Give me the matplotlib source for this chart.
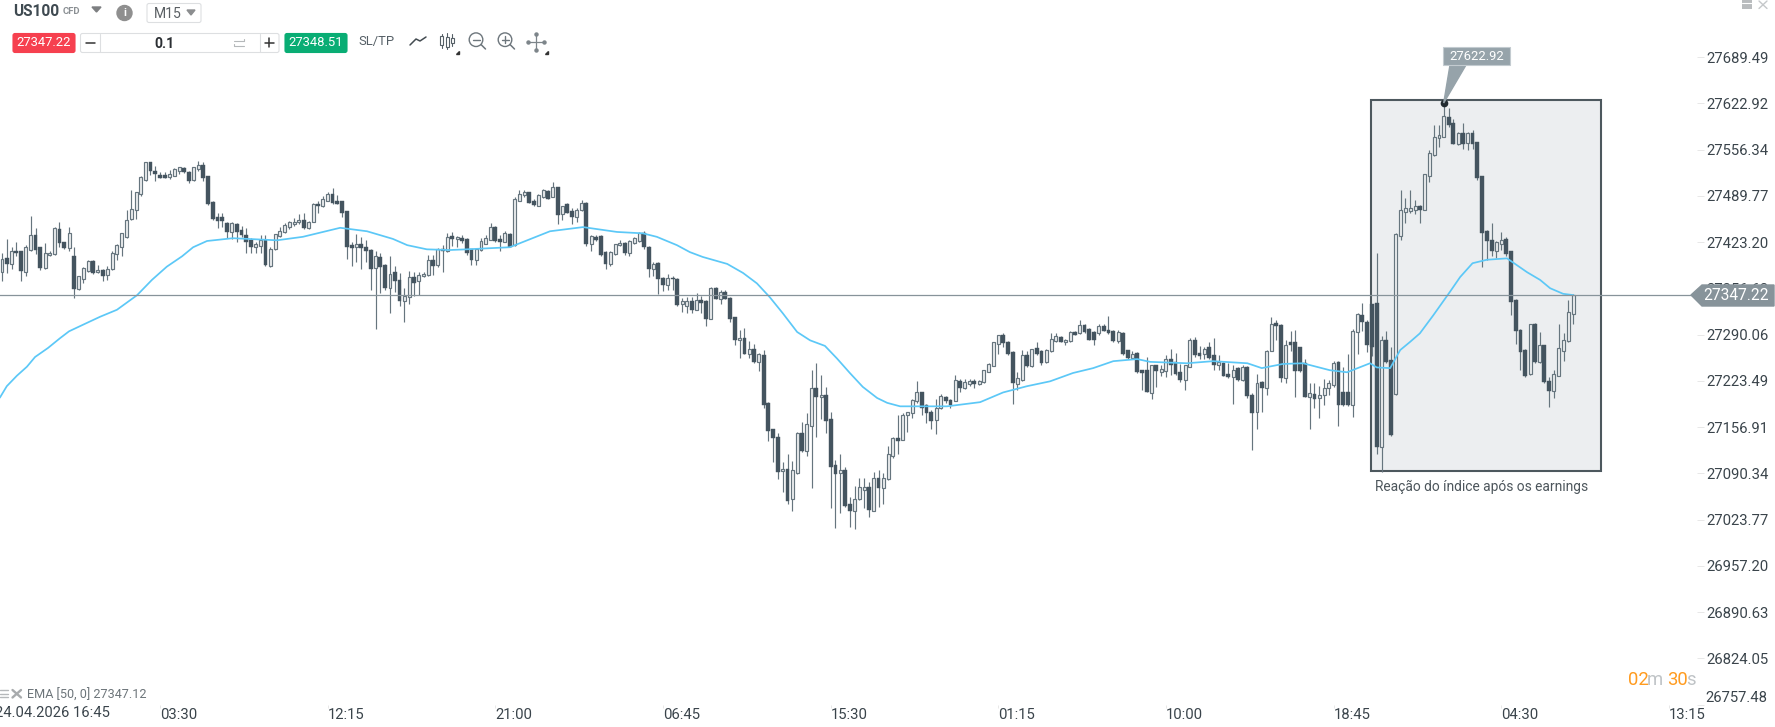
import matplotlib
matplotlib.use('Agg')
import matplotlib.pyplot as plt
import numpy as np
from matplotlib.patches import Rectangle, Polygon, Circle, FancyBboxPatch

plt.rcParams['font.family'] = ['Roboto', 'DejaVu Sans']

# candle data
opens = [27381,27400,27392,27411,27410,27381,27412,27433,27416,27386,
27405,27406,27442,27424,27415,27404,27356,27371,27382,27396,
27380,27383,27376,27384,27406,27417,27431,27456,27470,27492,
27513,27538,27526,27520,27520,27517,27519,27526,27530,27525,
27513,27528,27534,27518,27481,27459,27459,27451,27438,27450,
27441,27433,27427,27417,27418,27427,27389,27413,27432,27438,
27445,27449,27452,27455,27443,27453,27478,27475,27483,27493,
27483,27482,27468,27419,27417,27421,27417,27412,27386,27402,
27391,27357,27380,27369,27338,27345,27373,27367,27374,27376,
27398,27390,27413,27410,
27432,27428,27429,27428,27413,27398,27412,27421,27427,27445,
27428,27424,27435,27419,27483,27491,27495,27483,27476,27488,
27497,27489,27502,27464,27478,27468,27460,27469,27480,27421,
27431,27432,27409,27392,27406,27419,27422,27408,27422,27425,
27436,27417,27385,27394,27372,27362,27372,27371,27334,27332,
27338,27326,27340,27338,27313,27358,27342,27352,27343,27315,
27282,27286,27263,27269,27251,27261,27192,27154,27143,27094,
27097,27053,27091,27149,27123,27158,27214,27201,27204,27169,
27102,27091,27096,27046,27036,27053,27067,27071,27037,27084,
27069,27082,27115,27142,
27139,27174,27177,27194,27207,27189,27179,27168,27184,27201,
27196,27195,27224,27214,27219,27224,27219,27222,27237,27245,
27277,27289,27280,27265,27219,27225,27261,27245,27271,27266,
27251,27266,27281,27287,27279,27281,27294,27292,27304,27299,
27294,27292,27303,27297,27296,27281,27293,27268,27256,27264,
27239,27239,27206,27246,27236,27238,27255,27251,27237,27225,
27244,27282,27264,27262,27272,27261,27247,27250,27233,27229,
27242,27225,27244,27204,27179,27222,27213,27267,27307,27304,
27228,27279,27279,27273,27249,27201,27205,27199,27203,27213,
27218,27251,27208,27208,27189,27294,27319,27309,27335,27336,
27128,27282,27253,27205,27432,27467,27468,27470,27476,27470,
27519,27549,27573,27575,27604,27595,27565,27581,27566,27581,
27567,27518,27440,27427,27411,27420,27428,27410,27340,27297,
27268,27233,27306,27251,27275,27224,27209,27231,27267,27281,27320]

closes = [27399,27392,27410,27407,27382,27416,27433,27412,27386,27408,
27408,27443,27422,27415,27436,27356,27374,27386,27396,27379,
27383,27375,27384,27408,27419,27436,27455,27471,27495,27517,
27538,27526,27521,27516,27516,27522,27529,27531,27524,27512,
27531,27534,27515,27478,27456,27454,27454,27438,27451,27438,
27433,27424,27416,27421,27427,27390,27413,27435,27440,27448,
27452,27453,27455,27443,27453,27478,27475,27486,27493,27480,
27478,27465,27417,27415,27421,27415,27410,27384,27403,27388,
27357,27378,27367,27338,27346,27373,27365,27376,27378,27398,
27389,27413,27410,27431,
27428,27431,27425,27408,27398,27413,27425,27430,27445,27425,
27424,27436,27417,27485,27492,27496,27480,27477,27491,27498,
27486,27503,27463,27475,27466,27460,27470,27480,27420,27432,
27427,27405,27392,27409,27420,27422,27407,27425,27429,27436,
27416,27385,27392,27370,27361,27372,27370,27333,27338,27338,
27325,27340,27336,27313,27358,27342,27352,27342,27312,27283,
27286,27263,27269,27251,27262,27189,27151,27141,27093,27097,
27051,27095,27149,27123,27161,27214,27201,27204,27166,27100,
27090,27095,27043,27036,27053,27071,27071,27038,27084,27069,
27084,27118,27142,27137,
27175,27179,27196,27207,27185,27177,27166,27185,27202,27194,
27189,27225,27213,27222,27224,27219,27224,27239,27248,27279,
27289,27278,27262,27220,27228,27261,27245,27269,27263,27249,
27268,27284,27288,27280,27283,27294,27290,27304,27294,27283,
27282,27303,27296,27292,27281,27294,27263,27256,27263,27236,
27235,27208,27246,27238,27241,27255,27247,27233,27225,27246,
27282,27261,27259,27269,27257,27247,27251,27231,27229,27240,
27225,27244,27202,27177,27221,27213,27267,27305,27302,27228,
27275,27275,27238,27238,27201,27206,27197,27204,27214,27221,
27250,27189,27189,27189,27296,27320,27308,27276,27273,27128,
27282,27251,27146,27435,27469,27473,27473,27476,27470,27521,
27552,27575,27577,27605,27592,27565,27581,27565,27581,27564,
27515,27437,27425,27411,27424,27427,27406,27337,27295,27265,
27230,27305,27251,27275,27222,27209,27233,27271,27283,27323,27347.22]

highs = [27408,27428,27417,27423,27411,27419,27461,27443,27417,27422,
27410,27445,27453,27424,27445,27417,27375,27387,27398,27398,
27391,27384,27389,27411,27421,27437,27470,27499,27496,27518,
27538,27539,27533,27525,27524,27527,27530,27532,27531,27526,
27531,27540,27538,27519,27482,27466,27465,27453,27452,27451,
27446,27443,27429,27424,27434,27433,27417,27435,27445,27451,
27454,27458,27464,27465,27454,27480,27482,27490,27496,27501,
27491,27483,27468,27424,27435,27431,27426,27413,27411,27408,
27392,27404,27389,27379,27358,27382,27380,27381,27381,27405,
27405,27415,27419,27437,
27438,27432,27433,27429,27414,27414,
27429,27433,27451,27446,27433,27439,27436,27489,27499,27498,
27496,27486,27492,27500,27498,27510,27502,27476,27479,27472,
27472,27484,27481,27433,27433,27433,27410,27410,27421,27426,
27424,27426,27431,27438,27439,27418,27395,27395,27373,27377,
27374,27372,27343,27344,27345,27350,27346,27340,27359,27359,
27354,27354,27345,27316,27297,27300,27281,27277,27264,27268,
27193,27155,27149,27107,27119,27109,27150,27165,27177,27239,
27250,27232,27215,27179,27110,27118,27100,27057,27073,27084,
27084,27078,27093,27095,27091,27130,27143,27174,
27177,27179,27197,27223,27208,27190,27182,27198,27205,27202,
27198,27232,27226,27226,27227,27226,27225,27240,27249,27280,
27290,27293,27281,27266,27237,27268,27266,27270,27280,27268,
27270,27292,27292,27288,27284,27295,27295,27311,27305,27300,
27296,27305,27305,27317,27297,27297,27294,27268,27267,27265,
27240,27258,27247,27247,27246,27261,27270,27264,27248,27247,
27285,27287,27274,27273,27279,27285,27261,27251,27249,27246,
27243,27246,27245,27206,27233,27223,27268,27315,27311,27305,
27282,27296,27297,27273,27255,27221,27220,27216,27227,27225,
27252,27252,27244,27262,27298,27321,27336,27311,27335,27407,
27288,27296,27273,27436,27498,27487,27498,27484,27477,27522,
27556,27592,27592,27622.92,27616,27601,27582,27595,27582,27585,
27568,27519,27441,27451,27425,27438,27431,27411,27341,27298,
27269,27306,27307,27294,27276,27229,27239,27306,27292,27340,27349]

lows = [27368,27379,27384,27403,27368,27374,27411,27406,27383,27384,
27404,27405,27417,27413,27410,27343,27355,27364,27381,27378,
27379,27368,27369,27383,27398,27404,27430,27455,27456,27490,
27512,27520,27512,27515,27515,27514,27518,27522,27523,27508,
27512,27526,27512,27477,27455,27443,27445,27429,27428,27424,
27431,27407,27408,27408,27408,27389,27387,27412,27431,27436,
27442,27446,27450,27442,27442,27452,27466,27474,27482,27478,
27478,27460,27399,27389,27395,27384,27395,27355,27299,27350,
27354,27322,27352,27332,27308,27335,27346,27347,27373,27375,
27376,27388,27380,27409,
27418,27417,27422,27405,27391,27391,
27410,27420,27426,27424,27411,27423,27416,27418,27482,27489,
27479,27476,27475,27487,27485,27488,27450,27455,27465,27450,
27453,27468,27418,27411,27425,27403,27385,27389,27405,27418,
27405,27403,27421,27424,27414,27373,27374,27349,27353,27354,
27355,27331,27323,27322,27321,27325,27321,27303,27312,27341,
27335,27341,27308,27275,27256,27262,27256,27250,27238,27184,
27137,27107,27082,27064,27046,27036,27090,27121,27115,27069,
27143,27169,27148,27041,27012,27033,27042,27013,27010,27052,
27041,27027,27036,27042,27047,27081,27112,27119,
27138,27150,27170,27192,27174,27163,27155,27147,27183,27192,
27185,27194,27208,27212,27216,27213,27218,27221,27236,27245,
27263,27272,27261,27191,27210,27224,27244,27244,27261,27247,
27250,27265,27280,27279,27275,27280,27289,27291,27293,27282,
27275,27290,27295,27291,27280,27278,27261,27255,27255,27235,
27210,27207,27198,27215,27230,27229,27232,27232,27222,27211,
27243,27258,27255,27255,27255,27240,27239,27230,27228,27191,
27223,27224,27199,27124,27155,27179,27204,27266,27283,27222,
27220,27266,27201,27237,27200,27154,27184,27170,27189,27203,
27215,27159,27187,27188,27171,27263,27296,27265,27260,27119,
27093,27249,27145,27204,27426,27451,27465,27464,27451,27469,
27510,27548,27560,27574,27589,27564,27563,27557,27556,27558,
27513,27387,27397,27404,27401,27412,27404,27319,27277,27240,
27229,27232,27249,27250,27221,27186,27199,27230,27252,27280,27305]

# EMA [50, 0]
ema_idx = [-0.4,1,3.1,5.2,6.9,9.6,12.1,14,17.7,20.5,24,28.2,31.3,34.4,37.6,39.9,42.8,48.2,57.4,62.8,
70.6,76.2,81.6,84.6,88.7,93.5,97,106,114.4,121.3,128.4,133.8,136.7,140.9,143.6,146.3,151.4,154.7,
157.6,160.3,163,166,168.7,171.8,174.3,177,179.7,182.7,184.8,187.5,197.3,204.2,209,214,218.8,223.6,
227.8,232,237,239.7,247.4,252.8,260,263,267.4,271.6,277.2,280.8,285.6,287,289.8,291.9,294,296,298.8,
302.3,304.4,307,310,314.2,316.3,318.4,321.1,323.2,325.9,328]
ema_val = [27200,27216,27231,27244,27258,27271,27285,27295,27307,27316,27326,27347,27369,27388,27403,27416,27425,27429,27426,27431,
27444,27439,27428,27419,27413,27412,27413,27416,27439,27445,27438,27436,27431,27419,27409,27402,27392,27379,
27364,27344,27321,27294,27282,27274,27256,27235,27215,27199,27192,27187,27187,27193,27207,27216,27223,27235,
27242,27252,27255,27251,27249,27252,27249,27242,27248,27249,27239,27236,27249,27243,27242,27268,27280,27292,27318,
27352,27373,27393,27398,27400,27390,27380,27369,27357,27349,27347.12]

price_ticks = [27689.49,27622.92,27556.34,27489.77,27423.20,27356.63,27290.06,27223.49,
               27156.91,27090.34,27023.77,26957.20,26890.63,26824.05,26757.48]
time_idx = [33,68,103,138,173,208,243,278,313,348]
time_labels = ['03:30','12:15','21:00','06:45','15:30','01:15','10:00','18:45','04:30','13:15']

last_price = 27347.22
peak_idx = 301
peak_price = 27622.92
box_idx = (285.8, 333.8)
box_price = (27093.9, 27627.9)

DARK = '#44545f'
WICK = '#66757e'
LABEL = '#3a444b'

fig = plt.figure(figsize=(17.75, 7.27), dpi=100, facecolor='white')

# main chart, stops at the price scale
ax = fig.add_axes([0, 22 / 727, 1697 / 1775, 705 / 727])
ax.set_xlim(-0.418, 353.86)
ax.set_ylim(26757.07, 27771.9)
for side in ax.spines.values():
    side.set_visible(False)

ax.add_patch(Rectangle((box_idx[0], box_price[0]), box_idx[1] - box_idx[0], box_price[1] - box_price[0],
                       facecolor='#eceef0', edgecolor='#4d585e', linewidth=1.5, zorder=1))

o = np.array(opens, dtype=float)
c = np.array(closes, dtype=float)
h = np.array(highs, dtype=float)
l = np.array(lows, dtype=float)
xs = np.arange(len(o))
up = c > o

ax.vlines(xs, l, h, color=WICK, linewidth=0.85, zorder=2)
ax.bar(xs[up], (c - o)[up], bottom=o[up], width=0.62, facecolor='#eef0f1', edgecolor=WICK, linewidth=0.85, zorder=3)
ax.bar(xs[~up], (o - c)[~up], bottom=c[~up], width=0.8, facecolor=DARK, edgecolor=DARK, linewidth=0.3, zorder=3)

ax.plot(ema_idx, ema_val, color='#5cc8f7', linewidth=1.25, zorder=4)
ax.axhline(last_price, color='#87939a', linewidth=0.9, zorder=5)
ax.plot([peak_idx], [peak_price], 'o', color='#222b30', markersize=4.5, zorder=6)

ax.set_yticks(price_ticks)
ax.set_yticklabels(['%.2f' % p for p in price_ticks[:-1]] + [''])
ax.yaxis.tick_right()
ax.tick_params(axis='y', length=5, width=0.7, color='#e8e8e8', labelcolor=LABEL, labelsize=10.7, pad=2)
ax.set_xticks(time_idx)
ax.set_xticklabels(time_labels, ha='left')
ax.tick_params(axis='x', length=2, width=0.7, color='#e8e8e8', labelcolor=LABEL, labelsize=10.7, pad=0)

# overlay in pixel coordinates for the platform's toolbar and tags
ui = fig.add_axes([0, 0, 1, 1], zorder=5)
ui.set_xlim(0, 1775)
ui.set_ylim(727, 0)
ui.axis('off')


def label(x, y, s, size=14, color=LABEL, ha='left', weight='normal'):
    ui.text(x, y, s, fontsize=size * 0.72, color=color, ha=ha, va='center', fontweight=weight)


def button(x0, y0, x1, y1, face, edge=None, r=2):
    ui.add_patch(FancyBboxPatch((x0 + r, y0 + r), x1 - x0 - 2 * r, y1 - y0 - 2 * r,
                                boxstyle='round,pad=%d,rounding_size=%d' % (r, r),
                                facecolor=face, edgecolor=edge if edge else face, linewidth=0.8))


def seg(xv, yv, color='#555f66', lw=1.0):
    ui.plot(xv, yv, color=color, linewidth=lw, solid_capstyle='round')


label(13, 11, 'US100', size=15.5, color='#3f4a51', weight='bold')
label(63, 12, 'CFD', size=9.5, color='#8a8f93', weight='bold')
ui.add_patch(Polygon([(92, 7), (101, 7), (96.5, 12)], color='#7d7f81'))
ui.add_patch(Circle((124.5, 13), 7.5, color='#8f8f8f'))
label(124.5, 13, 'i', size=11, color='white', ha='center', weight='bold')
button(147, 3.5, 201, 22.5, 'white', '#dddfe1')
label(153.5, 13.7, 'M15', size=14, color='#5a5f63')
ui.add_patch(Polygon([(187, 10), (195, 10), (191, 15)], color='#8b8d8f'))

button(13, 33.5, 75, 52.5, '#f6404f')
label(44, 43, '27347.22', size=13, color='white', ha='center')
button(80.5, 33.5, 279, 52.5, 'white', '#dddfe1')
seg([99.5, 99.5], [34, 52], '#dddfe1', 0.8)
seg([259.5, 259.5], [34, 52], '#dddfe1', 0.8)
seg([86, 95], [43, 43], '#333333', 1.1)
label(164, 43.5, '0.1', size=14, color='#2b2f33', ha='center', weight='bold')
seg([233.5, 244, 244], [41, 41, 39], '#b5b8ba', 0.8)
seg([244, 233.5, 233.5], [46, 46, 44], '#b5b8ba', 0.8)
seg([264.5, 273.5], [42.7, 42.7], '#333333', 1.1)
seg([269, 269], [38.2, 47.2], '#333333', 1.1)
button(285, 33.5, 347, 52.5, '#09ad74')
label(316, 43, '27348.51', size=13, color='white', ha='center')
label(358, 41.5, 'SL/TP', size=13, color='#555f66')

# chart type and zoom icons
seg([410, 416, 420, 426], [45, 39, 41, 37], '#444c52', 1.1)
for cx, top, bot, body_top, body_bot in [(441.7, 34, 48, 36, 45), (447, 33, 49, 37, 47), (452.3, 34, 46, 38, 43)]:
    seg([cx, cx], [top, bot], '#555f66', 0.8)
    ui.add_patch(Rectangle((cx - 1.5, body_top), 3, body_bot - body_top, facecolor='white', edgecolor='#555f66', linewidth=0.8, zorder=3))
for cx in (476, 505):
    ui.add_patch(Circle((cx, 39.7), 6.8, facecolor='none', edgecolor='#6d767c', linewidth=1.0))
    seg([cx + 5, cx + 9.5], [44.5, 49], '#6d767c', 1.1)
    seg([cx - 3.5, cx + 3.5], [39.7, 39.7], '#6d767c', 1.0)
seg([505, 505], [36.2, 43.2], '#6d767c', 1.0)
seg([528, 544], [41.7, 41.7], '#7d858a', 0.9)
seg([536, 536], [33.7, 49.7], '#7d858a', 0.9)
for px, py in [(528, 41.7), (544, 41.7), (536, 33.7), (536, 49.7)]:
    ui.plot(px, py, 'o', color='#7d858a', markersize=2.2)
ui.add_patch(Polygon([(456, 53.5), (459, 53.5), (459, 50.5)], color='#333333'))
ui.add_patch(Polygon([(545, 53.5), (548, 53.5), (548, 50.5)], color='#333333'))

# window buttons, top right
ui.add_patch(Rectangle((1742, 0), 10, 9, facecolor='#b9bcbe', edgecolor='none'))
seg([1742, 1752], [2.5, 2.5], 'white', 0.8)
seg([1759, 1767], [1, 8.5], '#c5c8ca', 1.0)
seg([1767, 1759], [1, 8.5], '#c5c8ca', 1.0)

# annotation under the box and the peak callout
label(1482, 487, 'Reação do índice após os earnings', size=13.8, color='#4d565c', ha='center')
ui.add_patch(Polygon([(1443.7, 103), (1450, 65), (1466, 65)], color='#96a3aa', zorder=2))
ui.add_patch(Rectangle((1443, 47), 67, 18, facecolor='#96a3aa', edgecolor='#c3cbd0', linewidth=0.8, zorder=3))
ui.text(1476.5, 56, '27622.92', fontsize=13 * 0.72, color='white', ha='center', va='center', zorder=4)

# last price tag covers the 27356.63 label
ui.add_patch(Polygon([(1691, 295), (1702, 285), (1774, 285), (1774, 306), (1702, 306)], color='#87939a', zorder=3))
ui.text(1736, 295.5, '27347.22', fontsize=15.5 * 0.72, color='white', ha='center', va='center', zorder=4)

label(1705, 698, '26757.48', size=14.8)
label(-5, 713, '24.04.2026 16:45', size=14.8)

# indicator line
label(27, 695.5, 'EMA [50, 0] 27347.12', size=12.6, color='#6d757a')
for yy in (690, 693.5, 697):
    seg([0, 8], [yy, yy], '#b5b8ba', 1.0)
seg([12.5, 21], [690, 697.5], '#a8abad', 1.7)
seg([21, 12.5], [690, 697.5], '#a8abad', 1.7)

# candle countdown
label(1628, 680, '02', size=18.5, color='#ff9b1f')
label(1647, 680, 'm', size=18.5, color='#bfc3c6')
label(1667, 680, '30', size=18.5, color='#ff9b1f')
label(1686, 680, 's', size=18.5, color='#bfc3c6')

fig.savefig('out.png', dpi=100, facecolor='white')
